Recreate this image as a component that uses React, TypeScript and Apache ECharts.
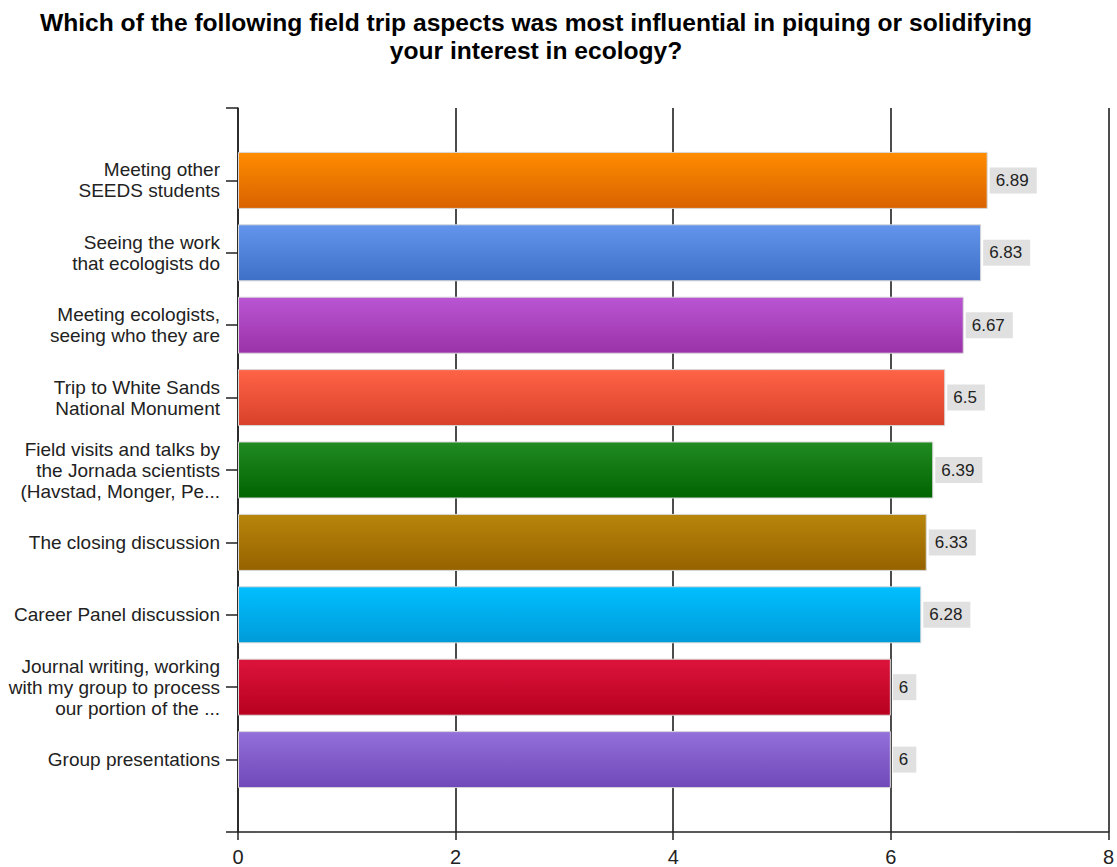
import React, { useEffect, useRef } from "react";
import * as echarts from "echarts";

const titleLines = [
  "Which of the following field trip aspects was most influential in piquing or solidifying",
  "your interest in ecology?",
];

const categories = [
  "Meeting other\nSEEDS students",
  "Seeing the work\nthat ecologists do",
  "Meeting ecologists,\nseeing who they are",
  "Trip to White Sands\nNational Monument",
  "Field visits and talks by\nthe Jornada scientists\n(Havstad, Monger, Pe...",
  "The closing discussion",
  "Career Panel discussion",
  "Journal writing, working\nwith my group to process\nour portion of the ...",
  "Group presentations",
];

const values = [6.89, 6.83, 6.67, 6.5, 6.39, 6.33, 6.28, 6, 6];

const topColors = ["#ff8c00", "#6495ed", "#ba55d3", "#ff6347", "#228b22", "#b8860b", "#00bfff", "#dc143c", "#9370db"];
const bottomColors = ["#d96200", "#3e70c8", "#9a32a8", "#d8412a", "#006400", "#966200", "#009bd8", "#b8001f", "#7049b8"];

const xTicks = [0, 2, 4, 6, 8];

const FONT = "'Liberation Sans', Arial, sans-serif";

export default function App() {
  const ref = useRef<HTMLDivElement>(null);
  useEffect(() => {
    if (!ref.current) return;
    const chart = echarts.init(ref.current, undefined, { renderer: "svg" });
    const cats = ["", ...categories, ""];
    const data = [
      null,
      ...values.map((v, i) => ({
        value: v,
        itemStyle: {
          color: new echarts.graphic.LinearGradient(0, 0, 0, 1, [
            { offset: 0, color: topColors[i] },
            { offset: 1, color: bottomColors[i] },
          ]),
        },
      })),
      null,
    ];
    chart.setOption({
      animation: false,
      backgroundColor: "#ffffff",
      graphic: [
        {
          type: "text",
          x: 536,
          y: 8,
          style: {
            text: titleLines.join("\n"),
            align: "center",
            verticalAlign: "top",
            font: "bold 24.6px " + FONT,
            lineHeight: 28,
            fill: "#000",
          },
        },
      ],
      grid: { left: 238, right: 7, top: 108, bottom: 32, containLabel: false },
      xAxis: {
        type: "value",
        min: xTicks[0],
        max: xTicks[xTicks.length - 1],
        interval: 2,
        axisLine: { show: true, onZero: false, lineStyle: { color: "#222", width: 1.5 } },
        axisTick: { show: true, length: 8, lineStyle: { color: "#222", width: 1.5 } },
        axisLabel: { color: "#222", fontSize: 20, fontFamily: FONT, margin: 15 },
        splitLine: { show: true, lineStyle: { color: "#111", width: 1.5 } },
      },
      yAxis: {
        type: "category",
        data: cats,
        inverse: true,
        boundaryGap: false,
        axisLine: { show: true, lineStyle: { color: "#222", width: 1.5 } },
        axisTick: { show: true, length: 12, interval: 0, lineStyle: { color: "#222", width: 1.5 } },
        axisLabel: {
          interval: 0,
          margin: 18,
          color: "#222",
          fontSize: 19,
          lineHeight: 21,
          align: "right",
          fontFamily: FONT,
        },
        splitLine: { show: false },
      },
      series: [
        {
          type: "bar",
          data,
          barWidth: 57,
          itemStyle: { borderColor: "#d8d8d8", borderWidth: 1 },
          label: {
            show: true,
            position: "right",
            distance: 2,
            color: "#222",
            fontSize: 17,
            fontFamily: FONT,
            backgroundColor: "#e0e0e0",
            padding: [5, 8, 4, 6],
          },
        },
      ],
    });
    return () => chart.dispose();
  }, []);
  return (
    <div
      ref={ref}
      style={{ position: "absolute", left: 0, top: 0, width: 1117, height: 867 }}
    />
  );
}
